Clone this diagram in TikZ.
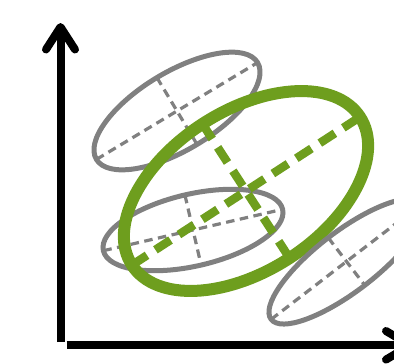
\documentclass[tikz,border=0pt]{standalone}
\definecolor{ellgray}{RGB}{128,128,128}
\definecolor{ellgreen}{RGB}{110,158,30}
\tikzset{
  grayell/.style={draw=ellgray, line width=5pt},
  grayaxis/.style={draw=ellgray, line width=3.2pt, dash pattern=on 8.5pt off 5.5pt},
  greenell/.style={draw=ellgreen, line width=12pt},
  greenaxis/.style={draw=ellgreen, line width=8.5pt, dash pattern=on 18pt off 10pt},
  axisline/.style={draw=black, line width=8pt},
  axishead/.style={draw=black, line width=8pt, line cap=round, line join=round}
}
\begin{document}
\begin{tikzpicture}[x=1pt,y=-1pt]
\useasboundingbox (0,0) rectangle (394,364);
% axes
\coordinate (yb) at (60.5,342);
\coordinate (yt) at (60.5,27);
\coordinate (yl) at (46,49.5);
\coordinate (yr) at (75,49.5);
\coordinate (xl) at (66.7,345.3);
\coordinate (xt) at (410,345.3);
\coordinate (xu) at (386,331);
\coordinate (xd) at (386,359.6);
\draw[axisline] (yb) -- (yt);
\draw[axishead] (yl) -- (yt) -- (yr);
\draw[axisline] (xl) -- (xt);
\draw[axishead] (xu) -- (xt) -- (xd);
% top-left gray ellipse
\begin{scope}[shift={(177,111)}, rotate=31]
  \draw[grayaxis] (-94,0) -- (94,0);
  \draw[grayaxis] (0,-39) -- (0,39);
  \draw[grayell] (0,0) ellipse [x radius=94, y radius=39];
\end{scope}
% middle gray ellipse
\begin{scope}[shift={(193,230)}, rotate=13]
  \draw[grayaxis] (-92,0) -- (92,0);
  \draw[grayaxis] (0,-36) -- (0,36);
  \draw[grayell] (0,0) ellipse [x radius=92, y radius=36];
\end{scope}
% green ellipse
\begin{scope}[shift={(246,191)}, rotate=33]
  \draw[greenell] (0,0) ellipse [x radius=136, y radius=80];
  \draw[greenaxis] (-136,0) -- (136,0);
  \draw[greenaxis] (0,-80) -- (0,80);
\end{scope}
% bottom-right gray ellipse
\begin{scope}[shift={(346.5,261.5)}, rotate=37.5]
  \draw[grayaxis] (-95,0) -- (95,0);
  \draw[grayaxis] (0,-30) -- (0,30);
  \draw[grayell] (0,0) ellipse [x radius=95, y radius=30];
\end{scope}
\end{tikzpicture}
\end{document}
